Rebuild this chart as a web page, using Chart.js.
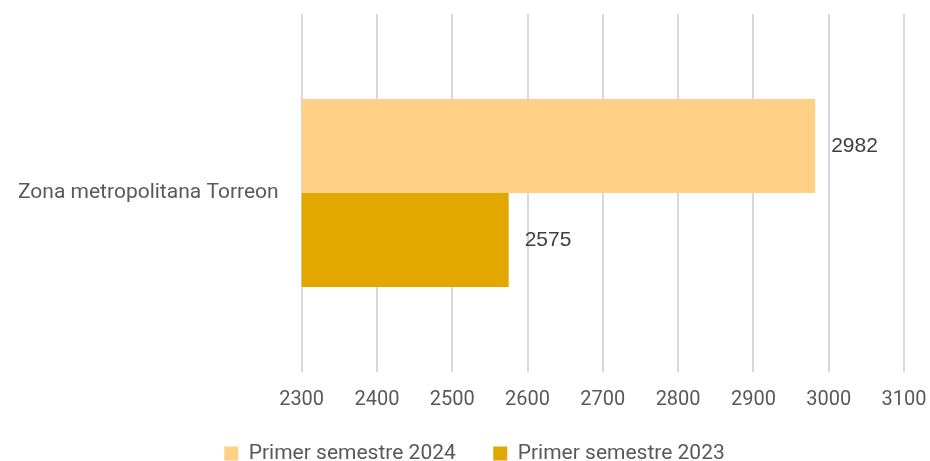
<!DOCTYPE html>
<html>
<head>
<meta charset="utf-8">
<script src="https://cdn.jsdelivr.net/npm/chart.js@4/dist/chart.umd.min.js"></script>
<style>
  html, body { margin: 0; padding: 0; background: #fff; }
  #wrap { width: 930px; height: 461px; position: relative; }
</style>
</head>
<body>
<div id="wrap"><canvas id="chart"></canvas></div>
<script>
/* ── Data ─────────────────────────────────────────── */
const categories = ['Zona metropolitana Torreon'];
const seriesNames = ['Primer semestre 2024', 'Primer semestre 2023'];
const values2024 = [2982];
const values2023 = [2575];
const xMin = 2300, xMax = 3100, xStep = 100;

const colors = ['#ffd086', '#e2a800'];

/* Value labels at bar ends */
const barLabels = {
  id: 'bar-labels',
  afterDatasetsDraw(chart) {
    const { ctx } = chart;
    ctx.save();
    ctx.font = '21px "Liberation Sans", Arial, sans-serif';
    ctx.fillStyle = '#404040';
    ctx.textAlign = 'left';
    ctx.textBaseline = 'middle';
    chart.data.datasets.forEach((ds, i) => {
      chart.getDatasetMeta(i).data.forEach((bar, j) => {
        ctx.fillText(ds.data[j], bar.x + 16, bar.y);
      });
    });
    ctx.restore();
  },
};

new Chart(document.getElementById('chart'), {
  type: 'bar',
  data: {
    labels: categories,
    datasets: [
      { label: seriesNames[0], data: values2024, backgroundColor: colors[0] },
      { label: seriesNames[1], data: values2023, backgroundColor: colors[1] },
    ],
  },
  options: {
    indexAxis: 'y',
    responsive: true,
    maintainAspectRatio: false,
    animation: false,
    devicePixelRatio: 1,
    layout: { padding: { top: 14, right: 0, left: 19, bottom: -13 } },
    datasets: { bar: { barPercentage: 1, categoryPercentage: 0.525 } },
    plugins: {
      legend: {
        position: 'bottom',
        labels: {
          boxWidth: 14, boxHeight: 14, padding: 1,
          color: '#595959',
          font: { size: 21, family: 'Roboto, sans-serif' },
          // trailing spaces keep the gap between the two entries
          generateLabels(chart) {
            const items = Chart.defaults.plugins.legend.labels.generateLabels(chart);
            return items.map((l, i) => i < items.length - 1
              ? { ...l, text: l.text + '\u2003\u2002\u2009' } : l);
          },
        },
      },
      tooltip: { enabled: false },
    },
    scales: {
      x: {
        min: xMin, max: xMax,
        grid: { color: '#d9d9d9', lineWidth: 2, drawTicks: false },
        border: { display: false },
        ticks: {
          stepSize: xStep, padding: 16,
          color: '#595959',
          font: { size: 20, family: 'Roboto, sans-serif' },
          callback: v => String(v),
        },
        afterFit(axis) {
          axis.paddingLeft = 0;
          axis.paddingRight = 26;
          axis.height += 14;
        },
      },
      y: {
        grid: { display: false, drawTicks: false },
        border: { display: false },
        ticks: {
          padding: 23,
          color: '#595959',
          font: { size: 21, family: 'Roboto, sans-serif' },
        },
        afterFit(axis) {
          axis.paddingTop = 0;
          axis.paddingBottom = 0;
          axis.width -= 24;
        },
      },
    },
  },
  plugins: [barLabels],
});
</script>
</body>
</html>
